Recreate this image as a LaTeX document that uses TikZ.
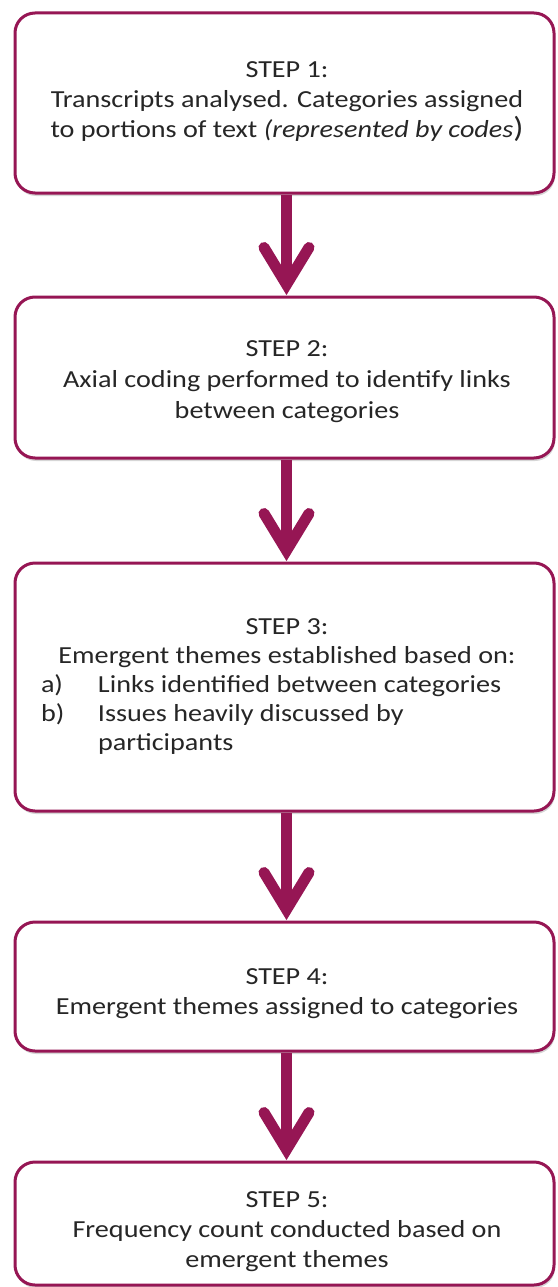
\documentclass[tikz,border=0pt]{standalone}
\usepackage{fontspec}
\setmainfont{Carlito}[FakeStretch=1.15]
\usetikzlibrary{shadows}
\definecolor{flowcol}{RGB}{150,22,84}
\definecolor{txtcol}{RGB}{38,38,38}
\tikzset{
  box/.style={draw=flowcol, line width=3pt, rounded corners=20pt, fill=white,
    minimum width=539pt, inner sep=0pt,
    drop shadow={shadow xshift=1pt, shadow yshift=-3pt, opacity=0.16, fill=black}},
  txt/.style={text=txtcol, align=center, inner sep=0pt, anchor=north,
    font=\fontsize{24.5}{30}\selectfont},
  shaft/.style={draw=flowcol, line width=11pt},
  head/.style={draw=flowcol, line width=11pt, line cap=round, line join=miter, miter limit=10},
}
\begin{document}
\begin{tikzpicture}[x=1pt,y=-1pt]
\useasboundingbox (0,0) rectangle (557,1287);
% boxes
\node[box, minimum height=180pt] (b1) at (284.5,103) {};
\node[box, minimum height=161pt] (b2) at (284.5,377.5) {};
\node[box, minimum height=248pt] (b3) at (284.5,687) {};
\node[box, minimum height=129pt] (b4) at (284.5,986.5) {};
\node[box, minimum height=123pt] (b5) at (284.5,1223.5) {};
% texts
\node[txt] (t1) at (287,61)
  {STEP 1:\\Transcripts analysed. Categories assigned\\to portions of text \textit{(represented by codes}{\fontsize{29}{29}\selectfont)}};
\node[txt, font=\fontsize{24.5}{31}\selectfont] (t2) at (287,340)
  {STEP 2:\\Axial coding performed to identify links\\between categories};
\node[txt, font=\fontsize{24.5}{29}\selectfont] (t3) at (287,618)
  {STEP 3:\\Emergent themes established based on:\\
   \makebox[492pt][l]{\makebox[57pt][l]{a)}Links identified between categories}\\
   \makebox[492pt][l]{\makebox[57pt][l]{b)}Issues heavily discussed by}\\
   \makebox[492pt][l]{\makebox[57pt][l]{}participants}};
\node[txt] (t4) at (287,968)
  {STEP 4:\\Emergent themes assigned to categories};
\node[txt] (t5) at (287,1191)
  {STEP 5:\\Frequency count conducted based on\\emergent themes};
% connectors
\foreach \a/\b in {b1/b2,b2/b3,b3/b4,b4/b5} {
  \draw[shaft] ([xshift=2pt]\a.south) -- ([xshift=2pt,yshift=12pt]\b.north);
  \draw[head] ([xshift=-20.5pt,yshift=48pt]\b.north) -- ([xshift=2pt,yshift=11pt]\b.north) -- ([xshift=24.5pt,yshift=48pt]\b.north);
}
\end{tikzpicture}
\end{document}
